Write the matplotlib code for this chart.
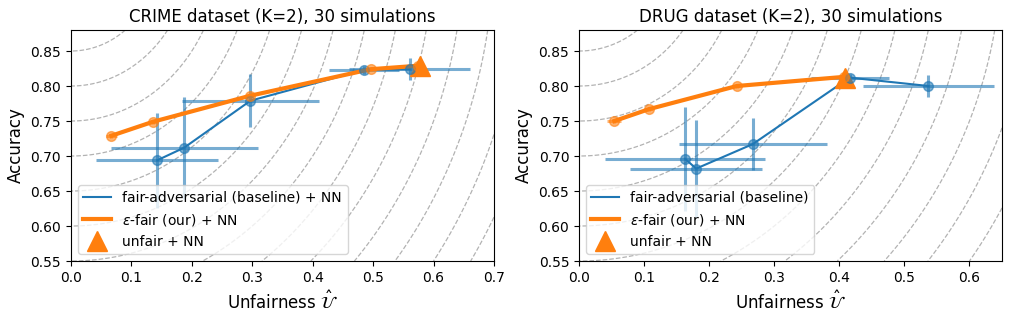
import numpy as np
import matplotlib
matplotlib.use("Agg")
import matplotlib.pyplot as plt

# CRIME dataset
crime_adv_x = [0.143, 0.1875, 0.297, 0.485, 0.5605]
crime_adv_y = [0.694, 0.712, 0.779, 0.823, 0.824]
crime_adv_xerr = [0.101, 0.122, 0.113, 0.058, 0.100]
crime_adv_yerr = [0.068, 0.073, 0.038, 0.006, 0.016]
crime_eps_x = [0.067, 0.136, 0.296, 0.496, 0.575]
crime_eps_y = [0.729, 0.749, 0.786, 0.824, 0.829]
crime_eps_xerr = [0.009, 0.006, 0.006, 0.007, 0.006]
crime_eps_yerr = [0.003, 0.003, 0.003, 0.002, 0.002]
crime_unfair = (0.578, 0.829)

# DRUG dataset
drug_adv_x = [0.163, 0.180, 0.267, 0.416, 0.537]
drug_adv_y = [0.696, 0.682, 0.717, 0.812, 0.800]
drug_adv_xerr = [0.123, 0.101, 0.114, 0.060, 0.100]
drug_adv_yerr = [0.074, 0.069, 0.037, 0.005, 0.016]
drug_eps_x = [0.0543, 0.1077, 0.2425, 0.4065]
drug_eps_y = [0.750, 0.767, 0.800, 0.813]
drug_eps_xerr = [0.011, 0.006, 0.005, 0.006]
drug_eps_yerr = [0.003, 0.003, 0.003, 0.002]
drug_unfair = (0.409, 0.812)

panels = [
    ("CRIME dataset (K=2), 30 simulations", 0.7, "fair-adversarial (baseline) + NN",
     crime_adv_x, crime_adv_y, crime_adv_xerr, crime_adv_yerr,
     crime_eps_x, crime_eps_y, crime_eps_xerr, crime_eps_yerr, crime_unfair),
    ("DRUG dataset (K=2), 30 simulations", 0.65, "fair-adversarial (baseline)",
     drug_adv_x, drug_adv_y, drug_adv_xerr, drug_adv_yerr,
     drug_eps_x, drug_eps_y, drug_eps_xerr, drug_eps_yerr, drug_unfair),
]

fig = plt.figure(figsize=(10.11, 3.22), dpi=100)
lefts = [0.0702, 0.5727]
width = 0.4184
bottom = 0.1894
height = 0.7174

for i, (title, xmax, adv_label, ax_x, ax_y, ax_xe, ax_ye,
        ep_x, ep_y, ep_xe, ep_ye, unfair) in enumerate(panels):
    ax = fig.add_axes([lefts[i], bottom, width, height])

    # iso-distance circles around the ideal point (0, 1)
    gx, gy = np.meshgrid(np.linspace(0, xmax, 400), np.linspace(0.55, 0.88, 300))
    dist = np.sqrt(gx ** 2 + (gy - 1.0) ** 2)
    ax.contour(gx, gy, dist, levels=np.arange(0.05, 1.3, 0.05),
               colors="gray", linestyles="--", linewidths=0.9, alpha=0.6)

    ax.plot(ax_x, ax_y, color="C0", lw=1.5, label=adv_label)
    ax.errorbar(ax_x, ax_y, xerr=ax_xe, yerr=ax_ye, fmt="o", color="C0",
                alpha=0.6, elinewidth=2.2, markersize=7)
    ax.plot(ep_x, ep_y, color="C1", lw=3, label=r"$\varepsilon$-fair (our) + NN")
    ax.errorbar(ep_x, ep_y, xerr=ep_xe, yerr=ep_ye, fmt="o", color="C1",
                alpha=0.6, elinewidth=2.2, markersize=7)
    ax.plot([unfair[0]], [unfair[1]], "^", color="C1", markersize=15,
            linestyle="none", label="unfair + NN")

    ax.set_xlim(0, xmax)
    ax.set_ylim(0.55, 0.88)
    ax.set_yticks(np.arange(0.55, 0.851, 0.05))
    ax.set_title(title, fontsize=12)
    ax.set_xlabel(r"Unfairness $\hat{\mathcal{U}}$", fontsize=12)
    ax.set_ylabel("Accuracy", fontsize=12)
    ax.legend(loc="lower left", fontsize=10)

fig.savefig("out.png", dpi=100)
